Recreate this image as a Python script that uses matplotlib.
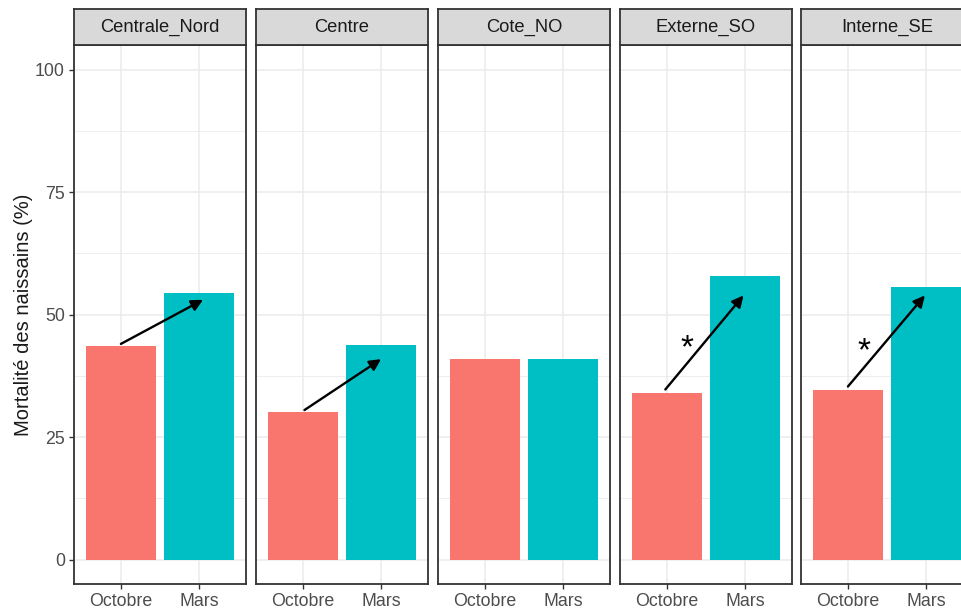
import matplotlib.pyplot as plt

plt.rcParams['font.family'] = ['Liberation Sans', 'DejaVu Sans']

# data
sites = ['Centrale_Nord', 'Centre', 'Cote_NO', 'Externe_SO', 'Interne_SE']
saisons = ['Octobre', 'Mars']
octobre = [43.6, 30.2, 40.9, 33.9, 34.5]
mars = [54.3, 43.8, 40.9, 57.9, 55.7]
# arrows (x0, y0, x1, y1) in data units, None where no arrow
fleches = [(1.0, 44.0, 2.05, 53.0),
           (1.02, 30.5, 2.0, 40.9),
           None,
           (0.98, 34.7, 1.98, 53.9),
           (1.0, 35.3, 1.985, 53.9)]
etoiles = [None, None, None, (1.26, 43.0), (1.21, 42.3)]
yticks = [0, 25, 50, 75, 100]

couleurs = ['#F8766D', '#00BFC4']
W, H = 961, 612
fig = plt.figure(figsize=(W / 100, H / 100), dpi=100)

gauches = [74, 256, 438, 620, 801]
largeur = 172
haut, bas = 45, 584
strip_haut = 9

for i, site in enumerate(sites):
    ax = fig.add_axes([gauches[i] / W, 1 - bas / H, largeur / W, (bas - haut) / H])
    ax.set_facecolor('white')
    ax.bar([1, 2], [octobre[i], mars[i]], width=0.9, color=couleurs, zorder=2)
    ax.set_xlim(0.4, 2.6)
    ax.set_ylim(-5, 105)
    ax.set_xticks([1, 2])
    ax.set_xticklabels(saisons)
    ax.set_yticks(yticks)
    ax.set_yticks([12.5, 37.5, 62.5, 87.5], minor=True)
    ax.grid(True, which='major', color='#EBEBEB', linewidth=1.1, zorder=0)
    ax.grid(True, which='minor', axis='y', color='#EBEBEB', linewidth=0.6, zorder=0)
    ax.set_axisbelow(True)
    ax.tick_params(axis='both', which='major', length=3.5, width=1, color='#333333',
                   labelcolor='#4D4D4D', labelsize=12.8, pad=3)
    ax.tick_params(axis='y', which='minor', length=0)
    if i == 0:
        ax.set_yticklabels([str(v) for v in yticks])
        ax.set_ylabel('Mortalité des naissains (%)', fontsize=14.5, color='#1A1A1A', labelpad=1.5)
    else:
        ax.tick_params(axis='y', which='major', left=False, labelleft=False)
    for s in ax.spines.values():
        s.set_color('#333333')
        s.set_linewidth(1.3)

    f = fleches[i]
    if f is not None:
        ax.annotate('', xy=(f[2], f[3]), xytext=(f[0], f[1]),
                    arrowprops=dict(arrowstyle='-|>', color='black', lw=1.7,
                                    mutation_scale=17, shrinkA=0, shrinkB=0),
                    zorder=4)
    e = etoiles[i]
    if e is not None:
        ax.text(e[0], e[1], '*', fontsize=24, ha='center', va='center',
                color='black', zorder=5)

    # strip
    sax = fig.add_axes([gauches[i] / W, 1 - haut / H, largeur / W, (haut - strip_haut) / H])
    sax.set_facecolor('#D9D9D9')
    sax.set_xticks([])
    sax.set_yticks([])
    for s in sax.spines.values():
        s.set_color('#333333')
        s.set_linewidth(1.3)
    sax.text(0.5, 0.5, site, ha='center', va='center', fontsize=13.2, color='#1A1A1A',
             transform=sax.transAxes)

fig.savefig('out.png', dpi=100)
